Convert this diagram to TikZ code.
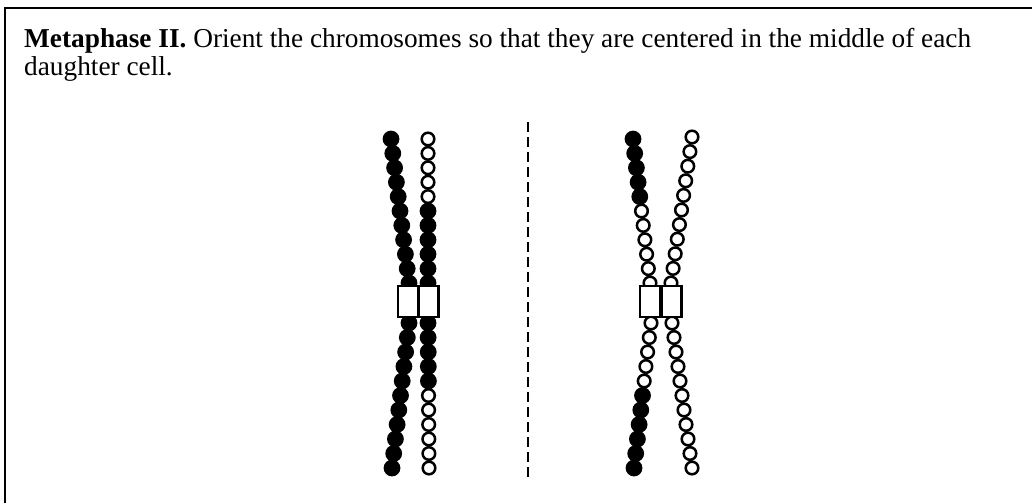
\documentclass[tikz,border=0pt]{standalone}
\usepackage{fontspec}
\setmainfont{Liberation Serif}
\usetikzlibrary{calc}

\tikzset{
  frame/.style={line width=2.4pt},
  beadb/.style={fill=black},
  beado/.style={draw=black, fill=white, line width=2.5pt},
  centro/.style={draw=black, fill=white, line width=2.4pt, inner sep=0pt,
                 minimum width=20pt, minimum height=31pt},
  divider/.style={line width=1.8pt, dash pattern=on 10pt off 5pt},
  caption/.style={anchor=base west, inner sep=0pt, font=\fontsize{27.3}{30}\selectfont}
}

% one chromatid arm: eleven beads spaced evenly from #1 to #2,
% pattern b (filled) / o (open)
\newcommand\chromarm[3]{%
  \foreach \bd [count=\k from 0] in {#3} {
    \pgfmathsetmacro\t{\k/10}
    \if b\bd
      \fill[beadb] ($(#1)!\t!(#2)$) circle[radius=8.4];
    \else
      \draw[beado] ($(#1)!\t!(#2)$) circle[radius=6.3];
    \fi
  }%
}

\begin{document}
\begin{tikzpicture}[x=1pt, y=-1pt]
\useasboundingbox (0,0) rectangle (1032,503);

% frame, open at the bottom and right
\draw[frame] (5,503) -- (5,8) -- (1032,8);

% instructions
\node[caption] (line1) at (24,47.5) {\textbf{Metaphase II.} Orient the chromosomes so that they are centered in the middle of each};
\node[caption] (line2) at (24,75) {daughter cell.};

% dividing plane between the daughter cells
\coordinate (divtop) at (528,122);
\coordinate (divbot) at (528,478);
\draw[divider] (divtop) -- (divbot);

% arm end points
\coordinate (LaT) at (391,139);  \coordinate (LaU) at (409,283);
\coordinate (LaD) at (409,323);  \coordinate (LaB) at (392,468);
\coordinate (LbT) at (428,139);  \coordinate (LbU) at (428,283);
\coordinate (LbD) at (428,323);  \coordinate (LbB) at (429,468);
\coordinate (RaT) at (633,139);  \coordinate (RaU) at (650,283);
\coordinate (RaD) at (651,323);  \coordinate (RaB) at (634,468);
\coordinate (RbT) at (692,137);  \coordinate (RbU) at (671,283);
\coordinate (RbD) at (672,323);  \coordinate (RbB) at (692,468);

% left daughter cell
\chromarm{LaT}{LaU}{b,b,b,b,b,b,b,b,b,b,b}
\chromarm{LaD}{LaB}{b,b,b,b,b,b,b,b,b,b,b}
\chromarm{LbT}{LbU}{o,o,o,o,o,b,b,b,b,b,b}
\chromarm{LbD}{LbB}{b,b,b,b,b,o,o,o,o,o,o}

% right daughter cell
\chromarm{RaT}{RaU}{b,b,b,b,b,o,o,o,o,o,o}
\chromarm{RaD}{RaB}{o,o,o,o,o,b,b,b,b,b,b}
\chromarm{RbT}{RbU}{o,o,o,o,o,o,o,o,o,o,o}
\chromarm{RbD}{RbB}{o,o,o,o,o,o,o,o,o,o,o}

% centromeres
\node[centro] (cLa) at (408,301.5) {};
\node[centro] (cLb) at (428.5,301.5) {};
\node[centro] (cRa) at (650,301.5) {};
\node[centro] (cRb) at (671.5,301.5) {};
\end{tikzpicture}
\end{document}
